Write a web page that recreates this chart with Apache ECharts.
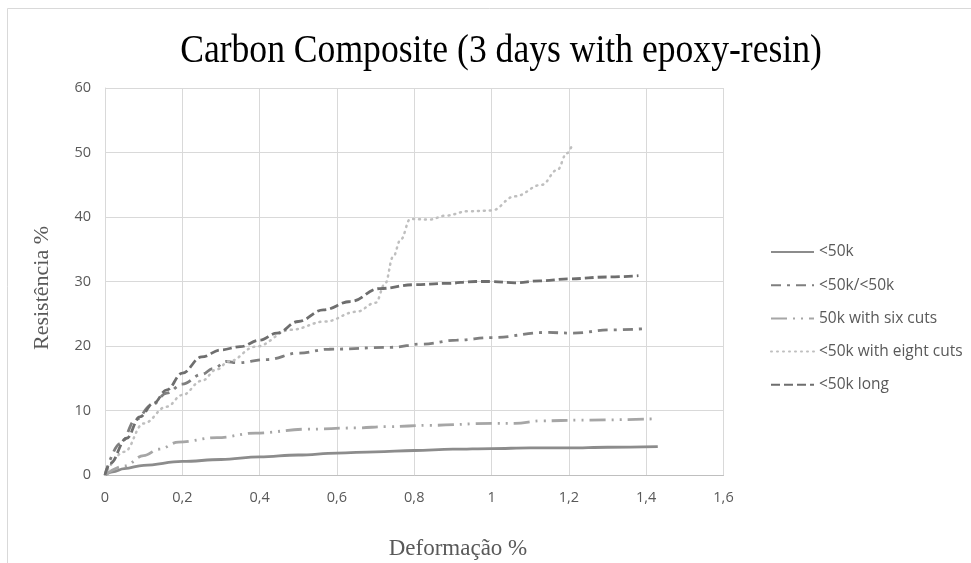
<!DOCTYPE html>
<html>
<head>
<meta charset="utf-8">
<script src="https://cdn.jsdelivr.net/npm/echarts@6/dist/echarts.min.js"></script>
<style>html,body{margin:0;padding:0;background:#fff}#c{width:971px;height:563px}</style>
</head>
<body>
<div id="c"></div>
<script>
const seriesNames = ['<50k', '<50k/<50k', '50k with six cuts', '<50k with eight cuts', '<50k long'];
const s50k = [[0,0],[0.02,0.5],[0.05,1.0],[0.1,1.5],[0.2,2.1],[0.3,2.4],[0.4,2.8],[0.5,3.1],[0.6,3.4],[0.7,3.6],[0.8,3.8],[0.9,4.0],[1.0,4.1],[1.1,4.2],[1.2,4.2],[1.3,4.3],[1.43,4.4]];
const s50k50k = [[0,0],[0.04,4.9],[0.08,8.6],[0.12,10.8],[0.16,12.7],[0.2,14.1],[0.25,15.6],[0.28,16.5],[0.315,17.6],[0.34,17.4],[0.42,17.9],[0.5,18.9],[0.58,19.5],[0.74,19.8],[0.82,20.3],[0.91,20.9],[1.0,21.3],[1.14,22.1],[1.21,22.0],[1.31,22.5],[1.4,22.7]];
const sSixCuts = [[0,0],[0.05,1.4],[0.1,3.0],[0.14,4.0],[0.19,5.1],[0.29,5.8],[0.39,6.5],[0.52,7.1],[0.65,7.3],[0.73,7.5],[0.84,7.7],[1.0,8.0],[1.06,8.0],[1.13,8.4],[1.23,8.5],[1.42,8.7]];
const sEightCuts = [[0,0],[0.05,3.6],[0.1,8.0],[0.16,10.6],[0.2,12.4],[0.25,14.6],[0.29,16.4],[0.32,17.6],[0.39,19.9],[0.48,22.5],[0.57,23.8],[0.65,25.3],[0.7,26.7],[0.725,29.7],[0.745,33.8],[0.765,36.5],[0.79,39.7],[0.84,39.6],[0.88,40.2],[0.94,40.9],[1.0,41.0],[1.06,43.2],[1.13,45.0],[1.17,47.3],[1.195,49.9],[1.21,51.4]];
const sLong = [[0,0],[0.013,1.8],[0.056,5.7],[0.09,9.0],[0.125,11.1],[0.16,13.2],[0.2,15.8],[0.25,18.3],[0.3,19.4],[0.35,19.9],[0.4,20.9],[0.445,22.0],[0.5,23.8],[0.565,25.6],[0.635,26.9],[0.71,28.9],[0.8,29.5],[0.88,29.7],[0.96,30.0],[1.0,30.0],[1.06,29.8],[1.125,30.1],[1.2,30.4],[1.3,30.7],[1.38,30.9]];

const titleText = 'Carbon Composite (3 days with epoxy-resin)';
const xTitle = 'Deformação %';
const yTitle = 'Resistência %';

const dataSets = [s50k, s50k50k, sSixCuts, sEightCuts, sLong];
const colors = ['#8c8c8c', '#7f7f7f', '#a6a6a6', '#bfbfbf', '#6e6e6e'];
const dashes = ['solid', [10,6,3,6], [16,6,2,6,2,6], [1,5], [9,4]];
const caps = ['butt', 'butt', 'butt', 'round', 'butt'];

const chart = echarts.init(document.getElementById('c'));
chart.setOption({
  animation: false,
  backgroundColor: '#fff',
  graphic: [
    {type: 'rect', shape: {x: 7.5, y: 8.5, width: 1000, height: 600},
     style: {fill: 'none', stroke: '#d9d9d9', lineWidth: 1}, silent: true, z: -10},
    {type: 'text', x: 501, y: 51, scaleX: 0.89, scaleY: 1, silent: true,
     style: {text: titleText, font: '40px "Liberation Serif"', fill: '#000', align: 'center', verticalAlign: 'middle'}},
    {type: 'text', x: 458, y: 549, silent: true,
     style: {text: xTitle, font: '23px "Liberation Serif"', fill: '#595959', align: 'center', verticalAlign: 'middle'}},
    {type: 'text', x: 42, y: 288, rotation: Math.PI / 2, silent: true,
     style: {text: yTitle, font: '22px "Liberation Serif"', fill: '#595959', align: 'center', verticalAlign: 'middle'}}
  ],
  grid: {left: 105, right: 247.5, top: 88, bottom: 88},
  legend: {
    orient: 'vertical', left: 765, top: 239, itemWidth: 43, itemHeight: 14, itemGap: 17.2,
    itemStyle: {opacity: 0},
    textStyle: {fontFamily: 'Open Sans', fontSize: 15.5, color: '#595959'},
    data: seriesNames
  },
  xAxis: {
    type: 'value', min: 0, max: 1.6, interval: 0.2,
    axisLine: {lineStyle: {color: '#bfbfbf'}},
    axisTick: {show: false},
    axisLabel: {margin: 15, fontFamily: 'Open Sans', fontSize: 14.5, color: '#595959',
      formatter: v => String(Math.round(v*10)/10).replace('.', ',')},
    splitLine: {show: true, lineStyle: {color: '#d9d9d9'}}
  },
  yAxis: {
    type: 'value', min: 0, max: 60, interval: 10,
    axisLine: {show: true, lineStyle: {color: '#d9d9d9'}},
    axisTick: {show: false},
    axisLabel: {margin: 14, fontFamily: 'Open Sans', fontSize: 14.5, color: '#595959'},
    splitLine: {show: true, lineStyle: {color: '#d9d9d9'}}
  },
  series: seriesNames.map((n, i) => ({
    name: n, type: 'line', data: dataSets[i], showSymbol: false, symbol: 'none',
    smooth: 0.4, smoothMonotone: 'x',
    itemStyle: {color: colors[i]},
    lineStyle: {color: colors[i], width: i === 3 ? 2.5 : 2.8, type: dashes[i], cap: caps[i]}
  }))
});
</script>
</body>
</html>
